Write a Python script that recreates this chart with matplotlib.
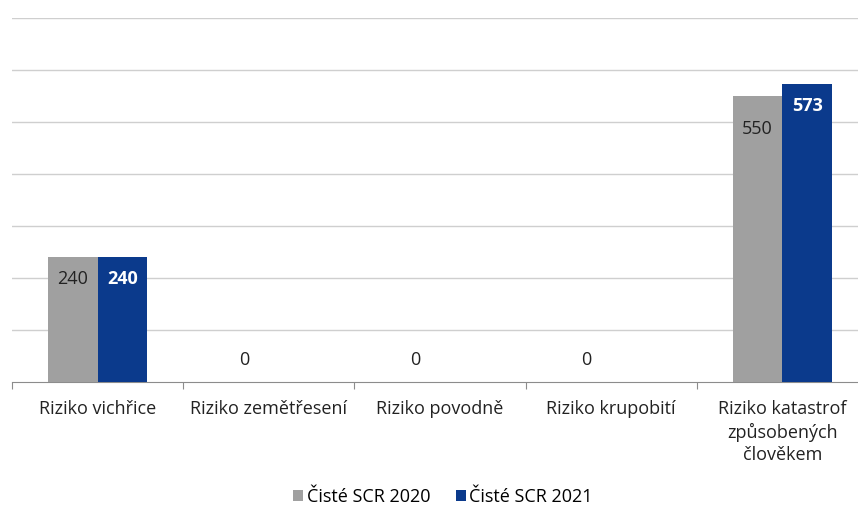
import matplotlib
matplotlib.use("Agg")
import matplotlib.pyplot as plt
import numpy as np

categories = [
    "Riziko vichřice",
    "Riziko zemětřesení",
    "Riziko povodně",
    "Riziko krupobití",
    "Riziko katastrof\nzpůsobených\nčlověkem",
]
scr_2020 = [240, 0, 0, 0, 550]
scr_2021 = [240, 0, 0, 0, 573]
series_names = ["Čisté SCR 2020", "Čisté SCR 2021"]

grey = "#a0a0a0"
blue = "#0b3a8c"

plt.rcParams["font.family"] = ["Open Sans", "DejaVu Sans"]

fig = plt.figure(figsize=(8.58, 5.07), dpi=100)
# axis runs slightly past the right edge of the picture, as in the reference
ax = fig.add_axes((12 / 858, 1 - 382 / 507, 856 / 858, 364 / 507))

x = np.arange(len(categories))
w = 0.29
b1 = ax.bar(x - w / 2, scr_2020, w, color=grey, label=series_names[0], zorder=3)
b2 = ax.bar(x + w / 2, scr_2021, w, color=blue, label=series_names[1], zorder=3)

ax.set_xlim(-0.5, len(categories) - 0.5)
ax.set_ylim(0, 700)
ax.set_yticks(np.arange(100, 701, 100))
ax.yaxis.grid(True, color="#cfcfcf", linewidth=1, zorder=0)
ax.tick_params(axis="y", left=False, labelleft=False)
for s in ["top", "right", "left"]:
    ax.spines[s].set_visible(False)
ax.spines["bottom"].set_color("#8c8c8c")

# category boundary ticks, labels centred in between
ax.set_xticks(np.arange(-0.5, len(categories)), minor=False)
ax.set_xticklabels([])
ax.tick_params(axis="x", length=5, color="#8c8c8c", direction="out")
ax.set_xticks(x, minor=True)
ax.set_xticklabels(categories, minor=True, fontsize=13, color="#222222",
                   linespacing=1.3)
ax.tick_params(axis="x", which="minor", length=0, pad=13)

# value labels
for xi, v in zip(x - w / 2, scr_2020):
    if v == 0:
        ax.annotate("0", (xi, v), xytext=(0, 15.5), textcoords="offset points",
                    ha="center", va="center", fontsize=13, color="#222222")
    else:
        off = -24 if v > 500 else -16
        ax.annotate(f"{v}", (xi, v), xytext=(0, off), textcoords="offset points",
                    ha="center", va="center", fontsize=13, color="#222222")
for xi, v in zip(x + w / 2, scr_2021):
    if v != 0:
        ax.annotate(f"{v}", (xi, v), xytext=(0, -16), textcoords="offset points",
                    ha="center", va="center", fontsize=13, color="white",
                    fontweight="bold")

fig.legend(handles=[b1, b2], loc="center", bbox_to_anchor=(443 / 858, 1 - 497 / 507),
           ncol=2, frameon=False, fontsize=13, handlelength=0.55, handleheight=0.55,
           handletextpad=0.2, columnspacing=1.4)

fig.savefig("out.png", dpi=100)
